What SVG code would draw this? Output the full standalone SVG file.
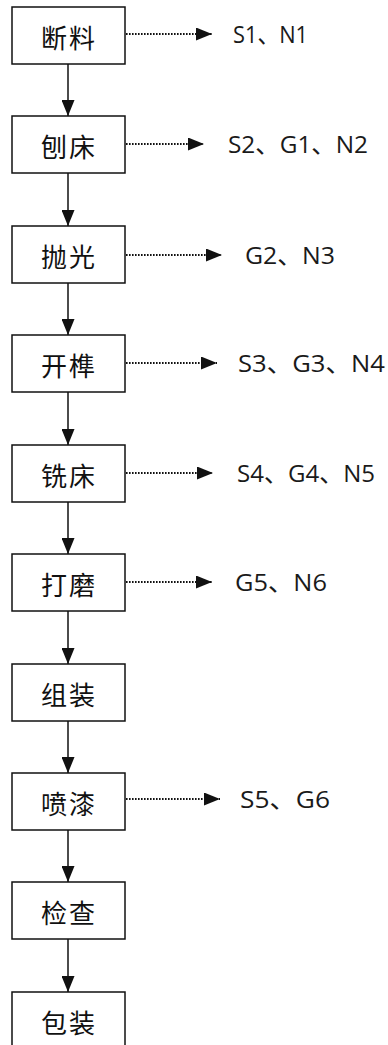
<svg xmlns="http://www.w3.org/2000/svg" width="388" height="1045" viewBox="0 0 388 1045">
<style>
.box{fill:#fff;stroke:#111;stroke-width:1.5}
.nt{font-family:"Noto Sans CJK SC","Noto Sans",sans-serif;font-size:26px;fill:#111;text-anchor:middle;letter-spacing:2px}
.lb{font-family:"Open Sans","Noto Sans CJK SC",sans-serif;font-size:24px;fill:#1a1a1a}
.flow{stroke:#111;stroke-width:1.5;fill:none}
.dot{stroke:#111;stroke-width:2.2;stroke-dasharray:1.6 1.4;fill:none}
</style>
<defs>
<marker id="ah" viewBox="0 0 16 13" refX="16" refY="6.5" markerWidth="16" markerHeight="13" markerUnits="userSpaceOnUse" orient="auto"><path d="M0,0 L16,6.5 L0,13 z" fill="#111"/></marker>
<marker id="dh" viewBox="0 0 16 13" refX="16" refY="6.5" markerWidth="16" markerHeight="13" markerUnits="userSpaceOnUse" orient="auto"><path d="M0,0 L16,6.5 L0,13 z" fill="#111"/></marker>
</defs>
<g id="connectors">
<line class="flow" x1="68" y1="64" x2="68" y2="116" marker-end="url(#ah)"/>
<line class="flow" x1="68" y1="173" x2="68" y2="226" marker-end="url(#ah)"/>
<line class="flow" x1="68" y1="283" x2="68" y2="335" marker-end="url(#ah)"/>
<line class="flow" x1="68" y1="392" x2="68" y2="445" marker-end="url(#ah)"/>
<line class="flow" x1="68" y1="502" x2="68" y2="554" marker-end="url(#ah)"/>
<line class="flow" x1="68" y1="611" x2="68" y2="664" marker-end="url(#ah)"/>
<line class="flow" x1="68" y1="721" x2="68" y2="773" marker-end="url(#ah)"/>
<line class="flow" x1="68" y1="830" x2="68" y2="882" marker-end="url(#ah)"/>
<line class="flow" x1="68" y1="939" x2="68" y2="992" marker-end="url(#ah)"/>
<line class="dot" x1="126" y1="34" x2="212" y2="34" marker-end="url(#dh)"/>
<line class="dot" x1="126" y1="144" x2="204" y2="144" marker-end="url(#dh)"/>
<line class="dot" x1="126" y1="255" x2="222" y2="255" marker-end="url(#dh)"/>
<line class="dot" x1="126" y1="363" x2="217" y2="363" marker-end="url(#dh)"/>
<line class="dot" x1="126" y1="473" x2="213" y2="473" marker-end="url(#dh)"/>
<line class="dot" x1="126" y1="582" x2="212" y2="582" marker-end="url(#dh)"/>
<line class="dot" x1="126" y1="799" x2="220" y2="799" marker-end="url(#dh)"/>
</g>
<g id="n1"><rect class="box" x="12" y="7" width="113" height="57"/><text class="nt" x="69" y="48">断料</text></g>
<g id="n2"><rect class="box" x="12" y="116" width="113" height="57"/><text class="nt" x="69" y="157">刨床</text></g>
<g id="n3"><rect class="box" x="12" y="226" width="113" height="57"/><text class="nt" x="69" y="267">抛光</text></g>
<g id="n4"><rect class="box" x="12" y="335" width="113" height="57"/><text class="nt" x="69" y="376">开榫</text></g>
<g id="n5"><rect class="box" x="12" y="445" width="113" height="57"/><text class="nt" x="69" y="486">铣床</text></g>
<g id="n6"><rect class="box" x="12" y="554" width="113" height="57"/><text class="nt" x="69" y="595">打磨</text></g>
<g id="n7"><rect class="box" x="12" y="664" width="113" height="57"/><text class="nt" x="69" y="705">组装</text></g>
<g id="n8"><rect class="box" x="12" y="773" width="113" height="57"/><text class="nt" x="69" y="814">喷漆</text></g>
<g id="n9"><rect class="box" x="12" y="882" width="113" height="57"/><text class="nt" x="69" y="923">检查</text></g>
<g id="n10"><rect class="box" x="12" y="992" width="113" height="57"/><text class="nt" x="69" y="1033">包装</text></g>
<g id="labels">
<text class="lb" x="233" y="43" textLength="75" lengthAdjust="spacingAndGlyphs">S1、N1</text>
<text class="lb" x="228" y="153" textLength="140" lengthAdjust="spacingAndGlyphs">S2、G1、N2</text>
<text class="lb" x="245" y="264" textLength="90" lengthAdjust="spacingAndGlyphs">G2、N3</text>
<text class="lb" x="238" y="372" textLength="147" lengthAdjust="spacingAndGlyphs">S3、G3、N4</text>
<text class="lb" x="237" y="482" textLength="138" lengthAdjust="spacingAndGlyphs">S4、G4、N5</text>
<text class="lb" x="235" y="591" textLength="92" lengthAdjust="spacingAndGlyphs">G5、N6</text>
<text class="lb" x="240" y="808" textLength="90" lengthAdjust="spacingAndGlyphs">S5、G6</text>
</g>
</svg>
